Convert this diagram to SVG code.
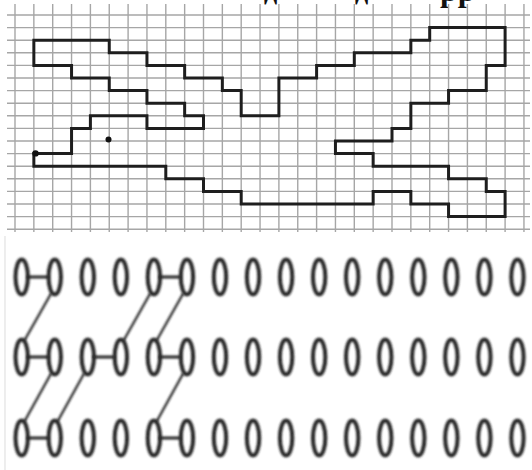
<svg xmlns="http://www.w3.org/2000/svg" xmlns:xlink="http://www.w3.org/1999/xlink" width="532" height="470" viewBox="0 0 532 470">
<style>
.grid line{stroke:#a6a6a6;stroke-width:1.4}
.bird{fill:none;stroke:#1e1e1e;stroke-width:3;stroke-linejoin:miter}
.ov{fill:none;stroke:#262626;stroke-width:4}
.lk{stroke:#262626;stroke-width:3.2;stroke-linecap:round}
.dg{stroke:#262626;stroke-width:2.3;stroke-linecap:round}
.cut{font-family:"Liberation Serif","DejaVu Serif",serif;font-weight:bold;fill:#111}
</style>
<defs>
<filter id="soft" x="-20%" y="-20%" width="140%" height="140%"><feGaussianBlur stdDeviation="0.8"/></filter>
<ellipse id="oval" cx="0" cy="0" rx="6.2" ry="17.6" class="ov"/>
</defs>
<rect width="532" height="470" fill="#ffffff"/>
<line x1="5" y1="236" x2="5" y2="470" stroke="#e2e2e2" stroke-width="1.2"/>
<g class="cut">
<text x="264" y="-0.5" font-size="26">д</text>
<text x="355" y="-0.5" font-size="26">д</text>
<text x="440" y="0.5" font-size="32">рр</text>
</g>
<g class="grid" id="grid">
<line x1="7" y1="15" x2="530" y2="15"/><line x1="7" y1="27.6" x2="530" y2="27.6"/><line x1="7" y1="40.2" x2="530" y2="40.2"/><line x1="7" y1="52.8" x2="530" y2="52.8"/><line x1="7" y1="65.4" x2="530" y2="65.4"/><line x1="7" y1="78" x2="530" y2="78"/><line x1="7" y1="90.6" x2="530" y2="90.6"/><line x1="7" y1="103.2" x2="530" y2="103.2"/><line x1="7" y1="115.8" x2="530" y2="115.8"/><line x1="7" y1="128.4" x2="530" y2="128.4"/><line x1="7" y1="141" x2="530" y2="141"/><line x1="7" y1="153.6" x2="530" y2="153.6"/><line x1="7" y1="166.2" x2="530" y2="166.2"/><line x1="7" y1="178.8" x2="530" y2="178.8"/><line x1="7" y1="191.4" x2="530" y2="191.4"/><line x1="7" y1="204" x2="530" y2="204"/><line x1="7" y1="216.6" x2="530" y2="216.6"/><line x1="7" y1="229.2" x2="530" y2="229.2"/>
<line x1="15" y1="4" x2="15" y2="232"/><line x1="33.85" y1="4" x2="33.85" y2="232"/><line x1="52.7" y1="4" x2="52.7" y2="232"/><line x1="71.55" y1="4" x2="71.55" y2="232"/><line x1="90.4" y1="4" x2="90.4" y2="232"/><line x1="109.25" y1="4" x2="109.25" y2="232"/><line x1="128.1" y1="4" x2="128.1" y2="232"/><line x1="146.95" y1="4" x2="146.95" y2="232"/><line x1="165.8" y1="4" x2="165.8" y2="232"/><line x1="184.65" y1="4" x2="184.65" y2="232"/><line x1="203.5" y1="4" x2="203.5" y2="232"/><line x1="222.35" y1="4" x2="222.35" y2="232"/><line x1="241.2" y1="4" x2="241.2" y2="232"/><line x1="260.05" y1="4" x2="260.05" y2="232"/><line x1="278.9" y1="4" x2="278.9" y2="232"/><line x1="297.75" y1="4" x2="297.75" y2="232"/><line x1="316.6" y1="4" x2="316.6" y2="232"/><line x1="335.45" y1="4" x2="335.45" y2="232"/><line x1="354.3" y1="4" x2="354.3" y2="232"/><line x1="373.15" y1="4" x2="373.15" y2="232"/><line x1="392" y1="4" x2="392" y2="232"/><line x1="410.85" y1="4" x2="410.85" y2="232"/><line x1="429.7" y1="4" x2="429.7" y2="232"/><line x1="448.55" y1="4" x2="448.55" y2="232"/><line x1="467.4" y1="4" x2="467.4" y2="232"/><line x1="486.25" y1="4" x2="486.25" y2="232"/><line x1="505.1" y1="4" x2="505.1" y2="232"/><line x1="523.95" y1="4" x2="523.95" y2="232"/>
</g>
<g id="bird">
<polygon class="bird" points="33.85,40.2 109.25,40.2 109.25,52.8 146.95,52.8 146.95,65.4 184.65,65.4 184.65,78 222.35,78 222.35,90.6 241.2,90.6 241.2,115.8 278.9,115.8 278.9,78 316.6,78 316.6,65.4 354.3,65.4 354.3,52.8 410.85,52.8 410.85,40.2 429.7,40.2 429.7,27.6 505.1,27.6 505.1,65.4 486.25,65.4 486.25,90.6 448.55,90.6 448.55,103.2 410.85,103.2 410.85,128.4 392,128.4 392,141 335.45,141 335.45,153.6 373.15,153.6 373.15,166.2 448.55,166.2 448.55,178.8 486.25,178.8 486.25,191.4 505.1,191.4 505.1,216.6 448.55,216.6 448.55,204 410.85,204 410.85,191.4 373.15,191.4 373.15,204 241.2,204 241.2,191.4 203.5,191.4 203.5,178.8 165.8,178.8 165.8,166.2 33.85,166.2 33.85,153.6 71.55,153.6 71.55,128.4 90.4,128.4 90.4,115.8 146.95,115.8 146.95,128.4 203.5,128.4 203.5,115.8 184.65,115.8 184.65,103.2 146.95,103.2 146.95,90.6 109.25,90.6 109.25,78 71.55,78 71.55,65.4 33.85,65.4"/>
<circle cx="108.5" cy="139.5" r="3" fill="#111"/>
<circle cx="35.5" cy="153.4" r="3.2" fill="#111"/>
</g>
<g id="connectors" filter="url(#soft)">
<line class="lk" x1="28" y1="277" x2="48" y2="277"/>
<line class="lk" x1="160" y1="277" x2="180" y2="277"/>
<line class="lk" x1="28" y1="357" x2="48" y2="357"/>
<line class="lk" x1="94" y1="357" x2="114" y2="357"/>
<line class="lk" x1="160" y1="357" x2="180" y2="357"/>
<line class="lk" x1="28" y1="438" x2="48" y2="438"/>
<line class="lk" x1="160" y1="438" x2="180" y2="438"/>
<line class="dg" x1="50.8" y1="294" x2="24.7" y2="340"/>
<line class="dg" x1="149.9" y1="294" x2="123.9" y2="340"/>
<line class="dg" x1="182.9" y1="294" x2="156.9" y2="340"/>
<line class="dg" x1="50.8" y1="374" x2="24.7" y2="421"/>
<line class="dg" x1="83.8" y1="374" x2="57.8" y2="421"/>
<line class="dg" x1="182.9" y1="374" x2="156.9" y2="421"/>
</g>
<g id="ovals" filter="url(#soft)">
<g id="r1c0"><use xlink:href="#oval" x="21.7" y="277"/></g>
<g id="r1c1"><use xlink:href="#oval" x="54.75" y="277"/></g>
<g id="r1c2"><use xlink:href="#oval" x="87.8" y="277"/></g>
<g id="r1c3"><use xlink:href="#oval" x="120.85" y="277"/></g>
<g id="r1c4"><use xlink:href="#oval" x="153.9" y="277"/></g>
<g id="r1c5"><use xlink:href="#oval" x="186.95" y="277"/></g>
<g id="r1c6"><use xlink:href="#oval" x="220" y="277"/></g>
<g id="r1c7"><use xlink:href="#oval" x="253.05" y="277"/></g>
<g id="r1c8"><use xlink:href="#oval" x="286.1" y="277"/></g>
<g id="r1c9"><use xlink:href="#oval" x="319.15" y="277"/></g>
<g id="r1c10"><use xlink:href="#oval" x="352.2" y="277"/></g>
<g id="r1c11"><use xlink:href="#oval" x="385.25" y="277"/></g>
<g id="r1c12"><use xlink:href="#oval" x="418.3" y="277"/></g>
<g id="r1c13"><use xlink:href="#oval" x="451.35" y="277"/></g>
<g id="r1c14"><use xlink:href="#oval" x="484.4" y="277"/></g>
<g id="r1c15"><use xlink:href="#oval" x="517.45" y="277"/></g>
<g id="r2c0"><use xlink:href="#oval" x="21.7" y="357"/></g>
<g id="r2c1"><use xlink:href="#oval" x="54.75" y="357"/></g>
<g id="r2c2"><use xlink:href="#oval" x="87.8" y="357"/></g>
<g id="r2c3"><use xlink:href="#oval" x="120.85" y="357"/></g>
<g id="r2c4"><use xlink:href="#oval" x="153.9" y="357"/></g>
<g id="r2c5"><use xlink:href="#oval" x="186.95" y="357"/></g>
<g id="r2c6"><use xlink:href="#oval" x="220" y="357"/></g>
<g id="r2c7"><use xlink:href="#oval" x="253.05" y="357"/></g>
<g id="r2c8"><use xlink:href="#oval" x="286.1" y="357"/></g>
<g id="r2c9"><use xlink:href="#oval" x="319.15" y="357"/></g>
<g id="r2c10"><use xlink:href="#oval" x="352.2" y="357"/></g>
<g id="r2c11"><use xlink:href="#oval" x="385.25" y="357"/></g>
<g id="r2c12"><use xlink:href="#oval" x="418.3" y="357"/></g>
<g id="r2c13"><use xlink:href="#oval" x="451.35" y="357"/></g>
<g id="r2c14"><use xlink:href="#oval" x="484.4" y="357"/></g>
<g id="r2c15"><use xlink:href="#oval" x="517.45" y="357"/></g>
<g id="r3c0"><use xlink:href="#oval" x="21.7" y="438"/></g>
<g id="r3c1"><use xlink:href="#oval" x="54.75" y="438"/></g>
<g id="r3c2"><use xlink:href="#oval" x="87.8" y="438"/></g>
<g id="r3c3"><use xlink:href="#oval" x="120.85" y="438"/></g>
<g id="r3c4"><use xlink:href="#oval" x="153.9" y="438"/></g>
<g id="r3c5"><use xlink:href="#oval" x="186.95" y="438"/></g>
<g id="r3c6"><use xlink:href="#oval" x="220" y="438"/></g>
<g id="r3c7"><use xlink:href="#oval" x="253.05" y="438"/></g>
<g id="r3c8"><use xlink:href="#oval" x="286.1" y="438"/></g>
<g id="r3c9"><use xlink:href="#oval" x="319.15" y="438"/></g>
<g id="r3c10"><use xlink:href="#oval" x="352.2" y="438"/></g>
<g id="r3c11"><use xlink:href="#oval" x="385.25" y="438"/></g>
<g id="r3c12"><use xlink:href="#oval" x="418.3" y="438"/></g>
<g id="r3c13"><use xlink:href="#oval" x="451.35" y="438"/></g>
<g id="r3c14"><use xlink:href="#oval" x="484.4" y="438"/></g>
<g id="r3c15"><use xlink:href="#oval" x="517.45" y="438"/></g>
</g>
</svg>
